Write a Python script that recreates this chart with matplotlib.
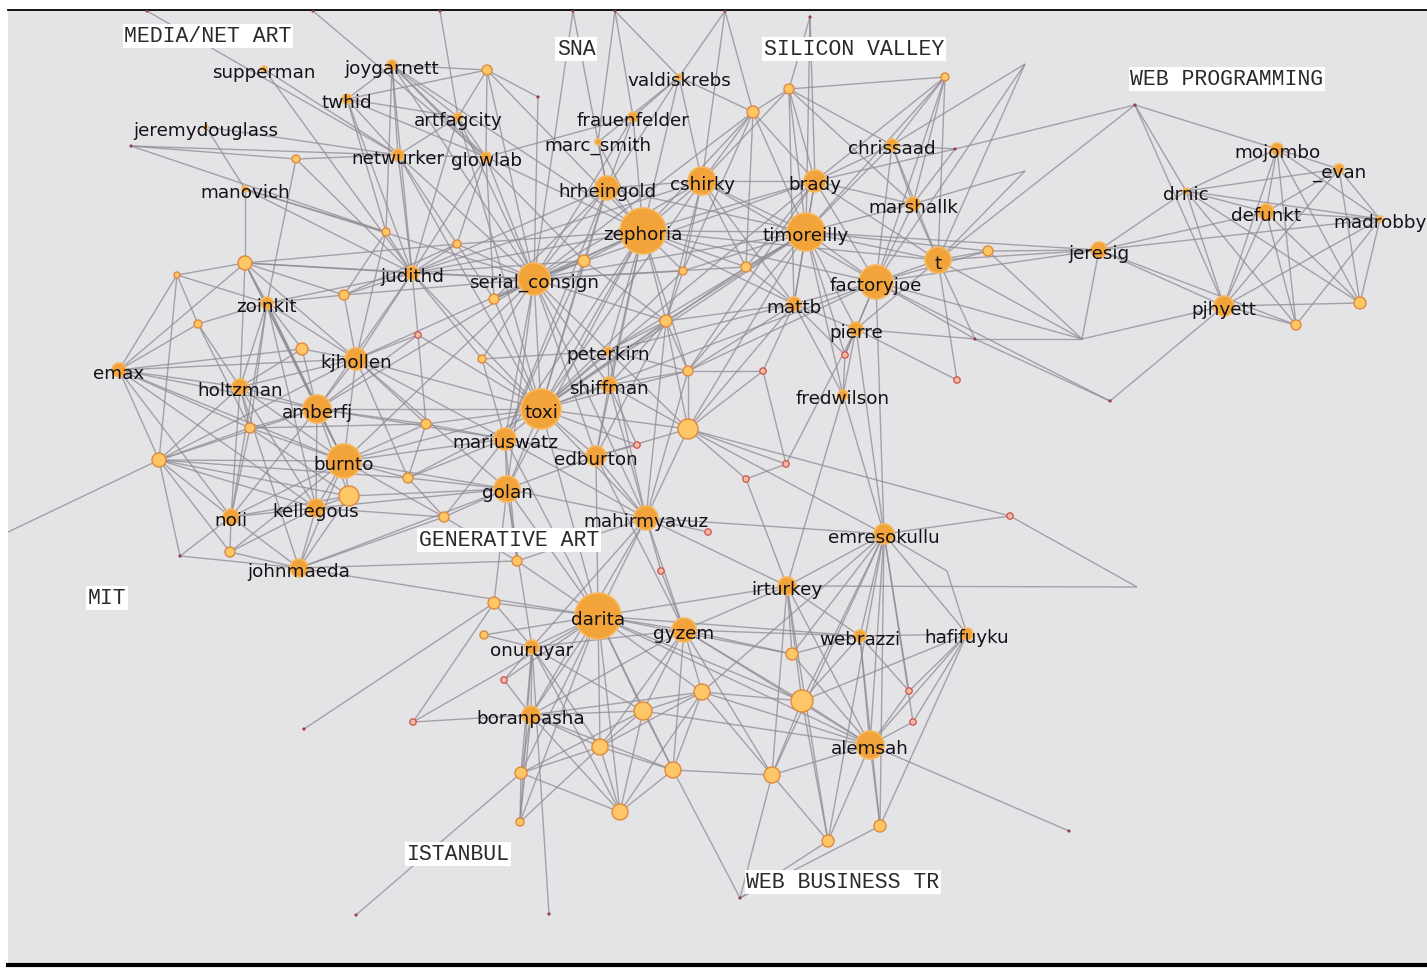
import numpy as np
import matplotlib.pyplot as plt
from matplotlib.collections import LineCollection

# labelled people (node centre in picture pixels, radius in px)
names = ["supperman", "joygarnett", "twhid", "artfagcity", "jeremydouglass", "netwurker",
         "glowlab", "manovich", "judithd", "zoinkit", "kjhollen", "emax", "holtzman",
         "amberfj", "burnto", "kellegous", "noii", "johnmaeda", "valdiskrebs", "frauenfelder",
         "marc_smith", "hrheingold", "cshirky", "zephoria", "serial_consign", "brady",
         "chrissaad", "marshallk", "timoreilly", "t", "factoryjoe", "mattb", "pierre",
         "peterkirn", "shiffman", "toxi", "mariuswatz", "edburton", "golan", "mahirmyavuz",
         "fredwilson", "emresokullu", "irturkey", "darita", "gyzem", "onuruyar", "webrazzi",
         "hafifuyku", "boranpasha", "alemsah", "jeresig", "mojombo", "_evan", "drnic",
         "defunkt", "madrobby", "pjhyett"]
name_x = [264, 392, 347, 458, 206, 398, 486, 245, 412, 267, 356, 119, 240, 317, 344, 316, 231,
          299, 679, 633, 598, 607, 702, 643, 534, 815, 892, 913, 806, 938, 876, 794, 856, 608,
          609, 541, 505, 596, 507, 646, 843, 884, 787, 598, 684, 532, 860, 967, 531, 870, 1099,
          1277, 1339, 1186, 1266, 1380, 1224]
name_y = [70, 66, 100, 118, 128, 156, 158, 190, 274, 304, 360, 371, 388, 410, 462, 509, 518,
          569, 78, 118, 143, 189, 182, 232, 280, 182, 146, 205, 233, 261, 283, 305, 330, 352,
          386, 410, 440, 457, 490, 519, 396, 535, 587, 617, 631, 648, 637, 635, 716, 746, 251,
          150, 170, 192, 213, 220, 307]
name_r = [3, 5, 5, 4, 2, 6, 5, 3, 7, 6, 11, 7, 8, 14, 17, 9, 8, 9, 3, 5, 3, 12, 14, 23, 16, 11,
          6, 7, 19, 13, 17, 7, 7, 4, 8, 20, 11, 10, 13, 12, 5, 10, 9, 23, 12, 7, 6, 6, 9, 14, 8,
          6, 5, 3, 8, 3, 10]

# unlabelled nodes: light rings
ring_ids = ["m1", "m2", "m4", "m5", "m6", "m7", "m8", "m9", "s1", "s2", "s3", "s5", "s6", "s7",
            "s8", "s9", "s11", "s21", "t2", "t4", "t5", "t6", "t7", "t8", "t9", "t10", "t13",
            "g1", "g7", "g8", "g9", "i1", "i2", "i3", "i4", "i5", "i6", "i7", "i8", "i9", "i10",
            "i13", "i14", "w1", "w2"]
ring_x = [487, 296, 386, 457, 245, 177, 344, 198, 789, 753, 945, 584, 683, 746, 494, 666, 988,
          688, 302, 250, 159, 349, 426, 408, 444, 230, 482, 688, 517, 494, 484, 792, 702, 643,
          802, 600, 673, 521, 620, 520, 772, 828, 880, 1360, 1296]
ring_y = [71, 160, 233, 245, 264, 276, 296, 325, 90, 113, 78, 262, 272, 268, 300, 322, 252,
          372, 350, 429, 461, 497, 425, 479, 518, 553, 360, 430, 562, 604, 636, 655, 693, 712,
          702, 748, 771, 774, 813, 823, 776, 842, 827, 304, 326]
ring_r = [5, 4, 4, 4, 7, 3, 5, 4, 5, 6, 4, 6, 4, 5, 5, 6, 5, 5, 6, 5, 7, 10, 5, 5, 5, 5, 4,
          10, 5, 6, 4, 6, 8, 9, 11, 8, 8, 6, 8, 4, 8, 6, 6, 6, 5]

# unlabelled nodes: small red rings
red_ids = ["s10", "t3", "g2", "g5", "g6", "g10", "i11", "i12", "i17", "s18", "s19", "g3", "g4", "s22"]
red_x = [845, 418, 637, 708, 661, 504, 909, 913, 413, 957, 1010, 786, 746, 763]
red_y = [356, 336, 446, 533, 572, 681, 692, 723, 723, 381, 517, 465, 480, 372]

# unlabelled nodes: tiny dots
dot_ids = ["e1", "e2", "e3", "e4", "e5", "e6", "e7", "m3", "m10", "s4", "s14", "s15", "s17",
           "t11", "i15", "i16", "i18", "i19", "i20"]
dot_x = [147, 313, 440, 573, 615, 725, 810, 131, 538, 955, 1135, 975, 1110, 180, 740, 549, 304, 356, 1069]
dot_y = [12, 12, 12, 12, 12, 12, 18, 147, 98, 150, 106, 340, 402, 557, 899, 915, 730, 916, 832]

# line ends without a visible node
end_ids = ["s12", "s13", "s16", "s20", "t12", "i21"]
end_x = [1025, 1025, 1082, 1137, 8, 947]
end_y = [65, 172, 340, 588, 533, 572]

# links: first name joined to each following one
links = [
    "e1 netwurker", "e2 glowlab", "e3 artfagcity", "e4 hrheingold serial_consign",
    "e5 valdiskrebs marc_smith frauenfelder", "e6 valdiskrebs s2 cshirky", "e7 s1 timoreilly brady",
    "supperman judithd netwurker",
    "joygarnett twhid artfagcity netwurker m1 glowlab judithd m4 serial_consign zephoria s5",
    "twhid netwurker m4 artfagcity glowlab judithd m1",
    "artfagcity glowlab netwurker m1 serial_consign judithd toxi",
    "netwurker glowlab judithd m5 m2 jeremydouglass toxi serial_consign m3",
    "glowlab m1 serial_consign zephoria m5 judithd frauenfelder s8",
    "m3 m2 m4 netwurker", "jeremydouglass manovich", "manovich m6 judithd m4 serial_consign",
    "m2 judithd zoinkit",
    "m6 m7 judithd m8 zoinkit kjhollen amberfj burnto holtzman m5 serial_consign",
    "m7 m9 emax t5 zoinkit",
    "zoinkit burnto amberfj kellegous noii holtzman m8 kjhollen judithd t4 t2",
    "m8 judithd m4 serial_consign kjhollen m5", "m9 zoinkit holtzman t4 emax",
    "emax holtzman amberfj burnto kjhollen t5 kellegous noii m6 t2 t4",
    "holtzman amberfj burnto t4 kellegous noii kjhollen johnmaeda t5 t2",
    "amberfj burnto kjhollen judithd toxi serial_consign kellegous noii t6 t2 t3 mariuswatz t7 t4 m6 t5",
    "burnto kjhollen t6 kellegous noii johnmaeda t8 t9 toxi golan serial_consign m6 t4 t5 mariuswatz t7 t10",
    "kjhollen t2 judithd serial_consign t3 toxi t7 t8 m4 zoinkit m6 golan mariuswatz",
    "kellegous noii johnmaeda t10 t6 t5 t9 golan", "noii t10 t11 t5 johnmaeda t6 t4",
    "johnmaeda t10 t11 t6 t9 golan darita g7", "t5 t12 t11 t10 t6 kjhollen t4 t8",
    "t4 t7 t6", "t7 t8 t3 mariuswatz toxi", "t8 t9 golan mariuswatz", "t9 golan g7 mariuswatz",
    "judithd serial_consign m5 m4 toxi zephoria t3 t13 m8 hrheingold cshirky s5",
    "m5 serial_consign zephoria s8", "m1 serial_consign zephoria glowlab m10", "m10 serial_consign",
    "zephoria hrheingold cshirky serial_consign timoreilly s5 s6 s7 marc_smith frauenfelder toxi "
    "peterkirn s9 valdiskrebs brady mattb mariuswatz golan s8 edburton shiffman t factoryjoe s2 s21",
    "hrheingold cshirky serial_consign marc_smith s5 frauenfelder timoreilly toxi s8 mariuswatz",
    "cshirky timoreilly brady s2 valdiskrebs s6 s9 mattb factoryjoe s7 serial_consign toxi s1",
    "serial_consign s8 toxi s5 t13 mariuswatz golan edburton peterkirn shiffman s9 mahirmyavuz burnto "
    "timoreilly brady s7 s6 s2",
    "valdiskrebs marc_smith frauenfelder cshirky s2 hrheingold", "frauenfelder hrheingold serial_consign",
    "marc_smith zephoria", "s5 s8 toxi s9", "s6 s9 timoreilly",
    "s9 toxi shiffman peterkirn g1 s21 mahirmyavuz mattb",
    "timoreilly brady factoryjoe t s7 mattb chrissaad marshallk s1 s3 s11 pierre s6 jeresig "
    "fredwilson s10 s9 toxi s2 s21 peterkirn",
    "brady s1 s3 chrissaad marshallk factoryjoe t s7 mattb s2 s4 toxi s21",
    "t factoryjoe s11 jeresig marshallk chrissaad s3 s12 s13 pierre s18 s15 s16",
    "factoryjoe marshallk chrissaad pierre mattb s10 s11 jeresig s3 s12 s15 s17 emresokullu s16 toxi s21",
    "marshallk chrissaad s3 s13 s4 s1", "chrissaad s3 s4 s1 s12", "s1 s3 s2 mattb",
    "s2 s6 s7 zephoria", "mattb pierre s10 fredwilson s21 s7 peterkirn",
    "pierre s10 fredwilson emresokullu s18 s15", "fredwilson emresokullu irturkey s10",
    "s11 jeresig s16", "s15 s16 s17", "s17 pjhyett", "s16 pjhyett",
    "s14 mojombo drnic pjhyett s4 t", "s19 s20 g1",
    "jeresig drnic pjhyett defunkt t factoryjoe s11 madrobby s16 w2",
    "mojombo _evan drnic defunkt pjhyett w2 madrobby w1",
    "_evan drnic defunkt madrobby pjhyett w1", "drnic defunkt pjhyett madrobby w2 w1",
    "defunkt pjhyett madrobby w2 w1", "madrobby pjhyett w1 w2", "pjhyett w2 w1",
    "toxi mariuswatz edburton shiffman peterkirn golan mahirmyavuz g1 s21 t13 t7 t8 darita g2 s8 t3 s7 s6",
    "mariuswatz golan edburton t7 t8 t9 g7 darita mahirmyavuz t13 zephoria s5",
    "edburton golan shiffman mahirmyavuz darita g1 gyzem g2 s9",
    "golan mahirmyavuz darita g7 t9 onuruyar g8 zephoria t6",
    "mahirmyavuz darita gyzem g1 g5 g6 irturkey shiffman peterkirn s21 boranpasha onuruyar g7",
    "g1 s21 shiffman peterkirn g3 g4 s9 mattb timoreilly emresokullu",
    "shiffman peterkirn s21 g2", "peterkirn s21 t13", "s22 g1 mattb s21", "g3 g4 s22 pierre",
    "g4 irturkey",
    "darita gyzem onuruyar boranpasha g7 g8 g9 g10 i3 i5 i6 i8 i2 i7 i9 irturkey i1 webrazzi i4 "
    "mahirmyavuz alemsah i17 edburton",
    "gyzem onuruyar boranpasha i2 i3 i6 irturkey i1 i4 alemsah i10 i5 webrazzi g6 edburton",
    "onuruyar boranpasha g9 g10 i7 i5 i3 i8 i9 i16 g8",
    "boranpasha i7 i9 i5 i3 i8 i17 g10 i6 i2", "i17 g8 boranpasha darita", "i18 g8", "i19 i7",
    "i2 i3 i5 i6 i8 i10 i4", "i3 i5 i6 i8 i7", "i5 i6 i8 i7 i9", "i6 i8 i15 i10", "i7 i9 i8",
    "emresokullu irturkey webrazzi hafifuyku alemsah i4 i1 i11 i12 i13 i14 i10 s19 i21 i2 mahirmyavuz",
    "alemsah webrazzi hafifuyku i4 i11 i12 i13 i14 i10 i20 i1 irturkey i2 i3",
    "webrazzi hafifuyku i4 i1 irturkey i11 i14", "hafifuyku i11 i12 i21 i4 i14",
    "irturkey i1 i4 i10 s20 i13", "i10 i13 i15 i4", "i13 i15 i4", "i15 i14",
]

groups = ["MEDIA/NET ART", "SNA", "SILICON VALLEY", "WEB PROGRAMMING", "MIT",
          "GENERATIVE ART", "ISTANBUL", "WEB BUSINESS TR"]
group_x = [208, 576, 854, 1227, 107, 509, 458, 843]
group_y = [37, 50, 50, 80, 599, 541, 855, 883]

pos = {}
for ids, xs, ys in [(names, name_x, name_y), (ring_ids, ring_x, ring_y), (red_ids, red_x, red_y),
                    (dot_ids, dot_x, dot_y), (end_ids, end_x, end_y)]:
    for k, a, b in zip(ids, xs, ys):
        pos[k] = (a, b)

pairs = set()
for row in links:
    parts = row.split()
    for other in parts[1:]:
        pairs.add(tuple(sorted((parts[0], other))))
segs = [[pos[a], pos[b]] for a, b in sorted(pairs)]

fig = plt.figure(figsize=(14.27, 9.70), dpi=100)
fig.patch.set_facecolor('white')
ax = fig.add_axes([8 / 1427, 4 / 970, 1 - 8 / 1427, 955 / 970])
ax.set_xlim(8, 1427)
ax.set_ylim(966, 11)
ax.set_facecolor('#e4e3e6')
ax.set_xticks([])
ax.set_yticks([])
for s in ['left', 'right']:
    ax.spines[s].set_visible(False)
ax.spines['top'].set_linewidth(1.3)
ax.spines['bottom'].set_linewidth(3)

ax.add_collection(LineCollection(segs, colors='#8e8a95', linewidths=1.0, alpha=0.75, zorder=1))

def area(r):
    return (2 * np.array(r) * 0.72) ** 2

ax.scatter(dot_x, dot_y, s=area([1.6] * len(dot_x)), color='#9a3a4a', zorder=3, linewidths=0)
ax.scatter(red_x, red_y, s=area([3.2] * len(red_x)), facecolor='#f2b9a4', edgecolor='#cc5248',
           linewidths=0.9, zorder=3)
ax.scatter(ring_x, ring_y, s=area(ring_r), facecolor='#fdc667', edgecolor='#e0893a',
           linewidths=1.0, zorder=3)
ax.scatter(name_x, name_y, s=area(name_r), facecolor='#f2a33a', edgecolor='#f6b960',
           linewidths=1.2, zorder=4)

for n, a, b in zip(names, name_x, name_y):
    ax.text(a, b + 3, n, ha='center', va='center', fontsize=13.2, color='#141216',
            family='DejaVu Sans', zorder=5)

for g, a, b in zip(groups, group_x, group_y):
    ax.text(a, b, g, ha='center', va='center', fontsize=15.5, color='#2a2a2a',
            family='Liberation Mono', zorder=6,
            bbox=dict(boxstyle='square,pad=0.08', facecolor='white', edgecolor='none'))

fig.savefig('out.png', dpi=100)
